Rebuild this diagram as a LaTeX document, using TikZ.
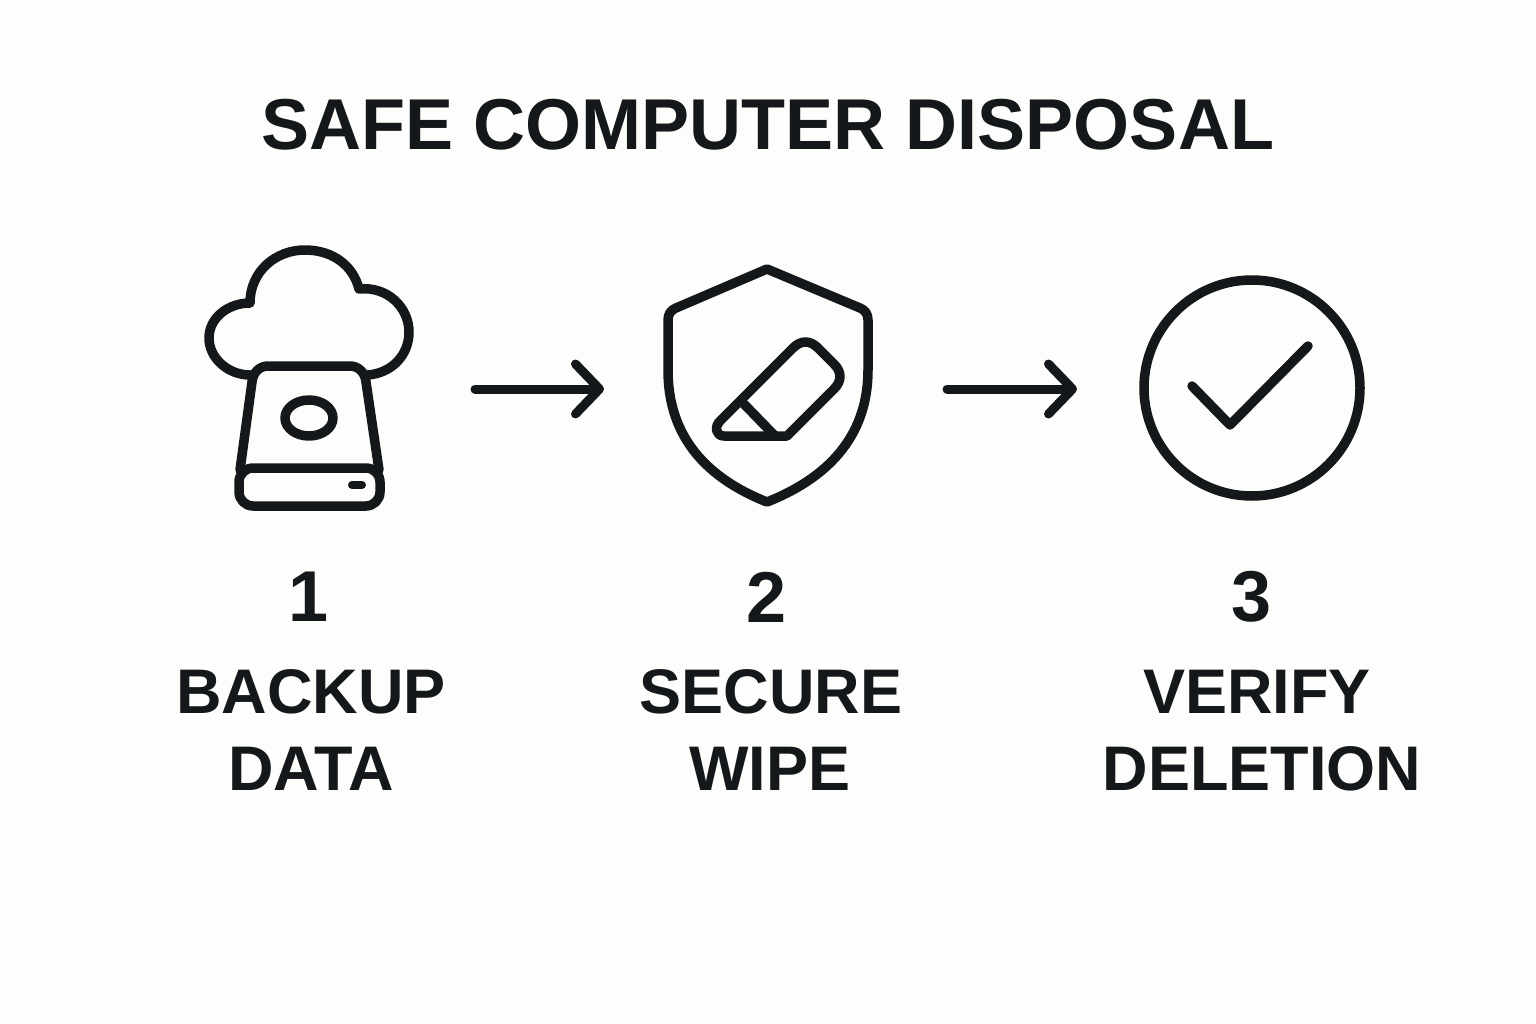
\documentclass[tikz,border=0pt]{standalone}
\usepackage{fontspec}
\setmainfont{Liberation Sans}
\usetikzlibrary{arrows.meta}
\usetikzlibrary{positioning}
\definecolor{custom-ink}{RGB}{21, 24, 27}
\definecolor{custom-paper}{RGB}{253, 253, 251}
\tikzset{
    icon/.style={draw=custom-ink, line width=9.5pt, line join=round, line cap=round},
    flow/.style={draw=custom-ink, line width=9pt, line cap=round, -{Straight Barb[length=24pt, width=50pt, round]}},
    title/.style={text=custom-ink, font=\fontsize{72}{72}\selectfont\bfseries, inner sep=0},
    number/.style={text=custom-ink, font=\fontsize{72}{72}\selectfont\bfseries, inner sep=0},
    label/.style={text=custom-ink, font=\fontsize{63}{63}\selectfont\bfseries, inner sep=0}
}
\begin{document}
\begin{tikzpicture}[x=1pt, y=-1pt]
    \fill[custom-paper] (0, 0) rectangle (1536, 1024);
    \useasboundingbox (0, 0) rectangle (1536, 1024);
    \node[title] (heading) at (768, 125) {SAFE COMPUTER DISPOSAL};
    \draw[icon] (250, 375) .. controls (228, 375) and (209, 358) .. (209, 338)
        .. controls (209, 318) and (228, 303) .. (250, 303)
        .. controls (250, 272) and (275, 250) .. (305, 250)
        .. controls (332, 250) and (353, 265) .. (359, 289)
        .. controls (388, 286) and (409, 308) .. (409, 332)
        .. controls (409, 355) and (392, 373) .. (368, 375);
    \draw[icon] (240, 470) -- (252, 382) .. controls (253, 372) and (260, 366) .. (268, 366)
        -- (350, 366) .. controls (358, 366) and (365, 372) .. (366, 382) -- (379, 470);
    \draw[icon, rounded corners=14pt] (239, 468) rectangle (380, 506);
    \draw[icon] (309, 418) ellipse (24 and 18);
    \draw[icon, line width=8pt] (352, 485) -- (362, 485);
    \draw[icon] (767, 269) -- (860, 308) .. controls (865, 310) and (868, 314) .. (868, 320)
        -- (868, 370) .. controls (868, 430) and (835, 475) .. (767, 502)
        .. controls (699, 475) and (668, 430) .. (668, 370)
        -- (668, 320) .. controls (668, 314) and (671, 310) .. (676, 308) -- cycle;
    \draw[icon] (787, 436) -- (834, 389) .. controls (842, 381) and (842, 372) .. (834, 364)
        -- (818, 348) .. controls (810, 340) and (801, 340) .. (793, 348)
        -- (720, 421) .. controls (714, 427) and (716, 436) .. (724, 436) -- cycle;
    \draw[icon] (743, 403) -- (775, 436);
    \draw[icon] (1252, 388) circle (108);
    \draw[icon] (1192, 386) -- (1230, 425) -- (1308, 346);
    \coordinate (first-tail) at (475, 389);
    \coordinate (first-head) at (604, 389);
    \coordinate (second-tail) at (947, 389);
    \coordinate (second-head) at (1077, 389);
    \draw[flow] (first-tail) -- (first-head);
    \draw[flow] (second-tail) -- (second-head);
    \node[number] (step-one) at (309, 597) {1};
    \node[number] (step-two) at (767, 597) {2};
    \node[number] (step-three) at (1252, 597) {3};
    \node[label] (backup) at (311, 692) {BACKUP};
    \node[label] (data) at (311, 769) {DATA};
    \node[label] (secure) at (771, 692) {SECURE};
    \node[label] (wipe) at (770, 769) {WIPE};
    \node[label] (verify) at (1257, 692) {VERIFY};
    \node[label] (deletion) at (1262, 769) {DELETION};
\end{tikzpicture}
\end{document}
